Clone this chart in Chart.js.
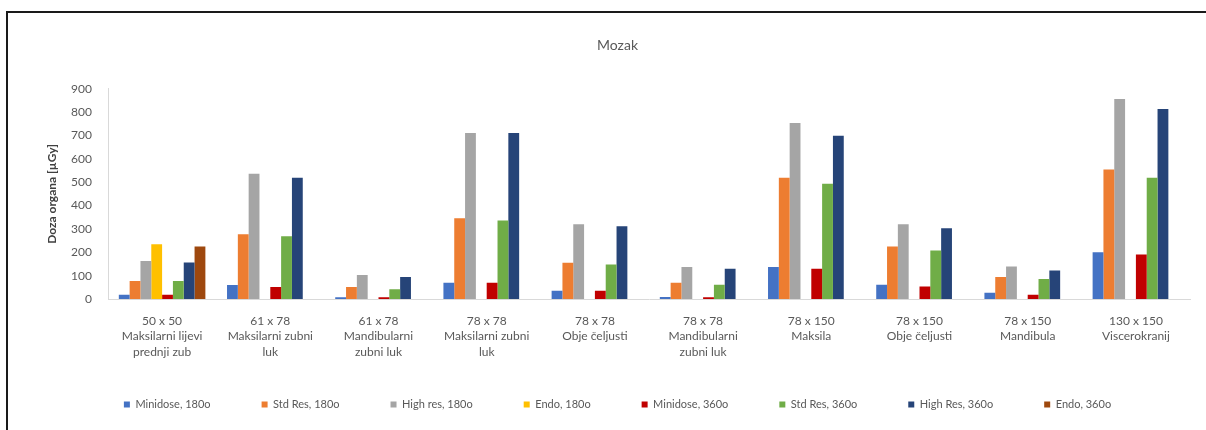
<!DOCTYPE html>
<html>
<head>
<meta charset="utf-8">
<script src="https://cdn.jsdelivr.net/npm/chart.js@4.4.1/dist/chart.umd.min.js"></script>
<style>
    html, body { margin: 0; padding: 0; background: #fff; }
    #wrap { position: relative; width: 1206px; height: 430px; }
    #frame {
        position: absolute; left: 6px; top: 11px; right: 0; bottom: 0;
        border-left: 2px solid #1a1a1a; border-top: 2px solid #1a1a1a;
        pointer-events: none;
    }
</style>
</head>
<body>
<div id="wrap">
    <canvas id="chart" width="1206" height="430"></canvas>
    <div id="frame"></div>
</div>
<script>
const categories = [
    ['50 x 50', 'Maksilarni lijevi', 'prednji zub'],
    ['61 x 78', 'Maksilarni zubni', 'luk'],
    ['61 x 78', 'Mandibularni', 'zubni luk'],
    ['78 x 78', 'Maksilarni zubni', 'luk'],
    ['78 x 78', 'Obje čeljusti'],
    ['78 x 78', 'Mandibularni', 'zubni luk'],
    ['78 x 150', 'Maksila'],
    ['78 x 150', 'Obje čeljusti'],
    ['78 x 150', 'Mandibula'],
    ['130 x 150', 'Viscerokranij']
]

const minidose180 = [18, 60, 8, 70, 35, 9, 137, 61, 27, 200]
const stdRes180 = [77, 277, 51, 346, 155, 70, 519, 225, 94, 554]
const highRes180 = [163, 536, 103, 711, 320, 137, 754, 320, 139, 856]
const endo180 = [234, null, null, null, null, null, null, null, null, null]
const minidose360 = [18, 51, 8, 70, 35, 7, 130, 53, 18, 191]
const stdRes360 = [77, 269, 42, 336, 148, 61, 493, 208, 86, 519]
const highRes360 = [156, 519, 94, 711, 312, 129, 699, 303, 122, 813]
const endo360 = [225, null, null, null, null, null, null, null, null, null]

const yTicks = [0, 100, 200, 300, 400, 500, 600, 700, 800, 900]

const textFont = "Lato, 'Open Sans', sans-serif"

function series(label, data, color) {
    return {
        label: label,
        data: data,
        backgroundColor: color,
        borderWidth: 0,
        barPercentage: 1.0,
        categoryPercentage: 0.8,
    }
}

const ctx = document.getElementById('chart').getContext('2d');
const chart = new Chart(ctx, {
    type: 'bar',
    data: {
        labels: categories,
        datasets: [
            series('Minidose, 180o', minidose180, '#4472C4'),
            series('Std Res, 180o', stdRes180, '#ED7D31'),
            series('High res, 180o', highRes180, '#A5A5A5'),
            series('Endo, 180o', endo180, '#FFC000'),
            series('Minidose, 360o', minidose360, '#C00000'),
            series('Std Res, 360o', stdRes360, '#70AD47'),
            series('High Res, 360o', highRes360, '#264478'),
            series('Endo, 360o', endo360, '#9E480E'),
        ]
    },
    options: {
        responsive: false,
        animation: false,
        devicePixelRatio: 1,
        layout: {
            // left pad shifts title + legend centre to the right like the original
            padding: { left: 45, right: 16, top: 0, bottom: 10 }
        },
        scales: {
            y: {
                min: 0,
                max: 900,
                afterBuildTicks: (scale) => {
                    scale.ticks = yTicks.map(v => ({ value: v }))
                },
                afterFit: (scale) => {
                    scale.width = 63
                },
                grid: { display: false },
                border: { color: '#d9d9d9', width: 1 },
                ticks: {
                    color: '#595959',
                    padding: 8,
                    font: { family: textFont, size: 12 },
                },
                title: {
                    display: true,
                    text: 'Doza organa [µGy]',
                    color: '#404040',
                    padding: { top: 0, bottom: 0 },
                    font: { family: textFont, size: 12, weight: 'bold' },
                },
            },
            x: {
                grid: { display: false },
                border: { color: '#d9d9d9', width: 1 },
                afterFit: (scale) => {
                    scale.height = 49
                    // labels run below the axis box, so don't clip them
                    scale._computeLabelArea = () => undefined
                },
                ticks: {
                    color: '#595959',
                    padding: 6,
                    maxRotation: 0,
                    autoSkip: false,
                    font: { family: textFont, size: 12, lineHeight: 1.3 },
                },
            },
        },
        plugins: {
            title: {
                display: true,
                text: 'Mozak',
                color: '#595959',
                padding: { top: 37, bottom: 35 },
                font: { family: textFont, size: 14, weight: 'normal' },
            },
            legend: {
                position: 'bottom',
                labels: {
                    boxWidth: 6,
                    boxHeight: 6,
                    padding: 51,
                    color: '#595959',
                    font: { family: textFont, size: 11 },
                },
            },
            tooltip: { enabled: false },
        }
    }
});
</script>
</body>
</html>
